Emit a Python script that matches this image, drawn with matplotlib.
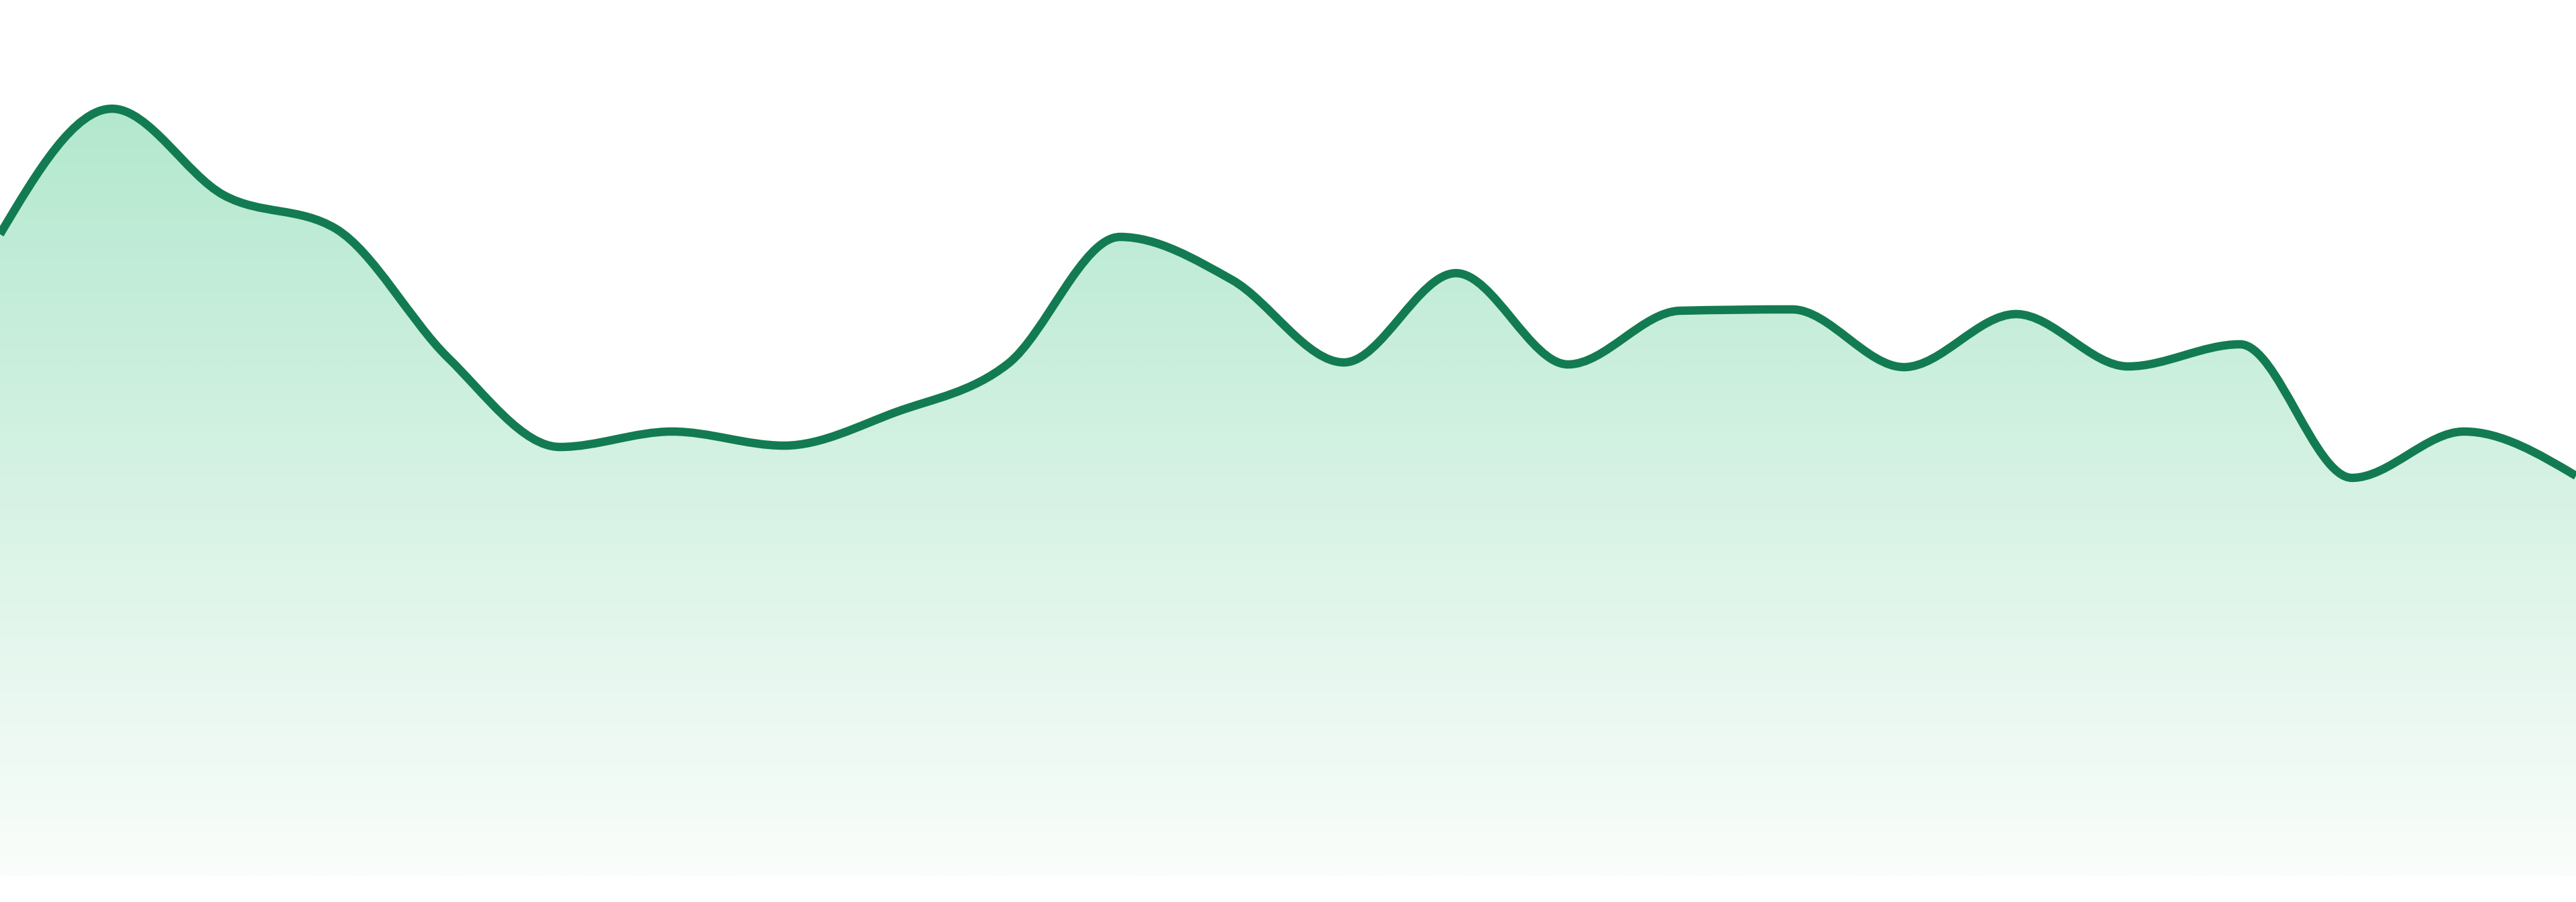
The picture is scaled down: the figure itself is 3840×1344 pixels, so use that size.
import numpy as np
import matplotlib
matplotlib.use("Agg")
import matplotlib.pyplot as plt
from matplotlib.path import Path
from matplotlib.patches import PathPatch
from matplotlib.colors import LinearSegmentedColormap

plt.rcParams["savefig.bbox"] = "standard"

# ---- data ----
x_index = list(range(24))
values = [95.6, 114.3, 101.4, 96.4, 77.2, 63.9, 66.2, 64.1, 69.1, 76.3,
          95.2, 88.8, 76.5, 89.8, 76.2, 84.2, 84.4, 75.8, 83.7, 75.9,
          79.2, 59.3, 66.2, 59.6]

LINE_COLOR = "#137b51"
TOP_FILL = "#b3e8ce"
BOTTOM_FILL = "#fafdfb"


def monotone_x_path(xs, ys):
    """d3 curveMonotoneX (Steffen) as cubic Bezier vertices."""
    xs = np.asarray(xs, float)
    ys = np.asarray(ys, float)
    n = len(xs)
    h = np.diff(xs)
    s = np.diff(ys) / h
    t = np.zeros(n)
    for i in range(1, n - 1):
        h0, h1 = h[i - 1], h[i]
        s0, s1 = s[i - 1], s[i]
        p = (s0 * h1 + s1 * h0) / (h0 + h1)
        t[i] = (np.sign(s0) + np.sign(s1)) * min(abs(s0), abs(s1), 0.5 * abs(p))
    t[0] = (3 * s[0] - t[1]) / 2
    t[-1] = (3 * s[-1] - t[-2]) / 2
    verts = [(xs[0], ys[0])]
    codes = [Path.MOVETO]
    for i in range(n - 1):
        dx = h[i] / 3
        verts += [(xs[i] + dx, ys[i] + dx * t[i]),
                  (xs[i + 1] - dx, ys[i + 1] - dx * t[i + 1]),
                  (xs[i + 1], ys[i + 1])]
        codes += [Path.CURVE4] * 3
    return verts, codes


fig = plt.figure(figsize=(38.4, 13.44), dpi=100)
ax = fig.add_axes([0, 0, 1, 1])
ax.axis("off")

verts, codes = monotone_x_path(x_index, values)

# fill area path
fverts = verts + [(x_index[-1], 0), (x_index[0], 0), verts[0]]
fcodes = codes + [Path.LINETO, Path.LINETO, Path.CLOSEPOLY]
area = PathPatch(Path(fverts, fcodes), facecolor="none", edgecolor="none")
ax.add_patch(area)

cmap = LinearSegmentedColormap.from_list("g", [BOTTOM_FILL, TOP_FILL])
grad = np.linspace(0, 1, 512).reshape(-1, 1)
top = max(values)
im = ax.imshow(grad, extent=[x_index[0], x_index[-1], 0, top], origin="lower",
               aspect="auto", cmap=cmap, zorder=1, interpolation="bilinear")
im.set_clip_path(area)

line = PathPatch(Path(verts, codes), facecolor="none", edgecolor=LINE_COLOR,
                 linewidth=9, zorder=3, capstyle="butt", joinstyle="round")
ax.add_patch(line)

ax.set_xlim(x_index[0], x_index[-1])
ax.set_ylim(-3.9, 130.5)

fig.savefig("out.png", dpi=100, facecolor="white", bbox_inches=None)
